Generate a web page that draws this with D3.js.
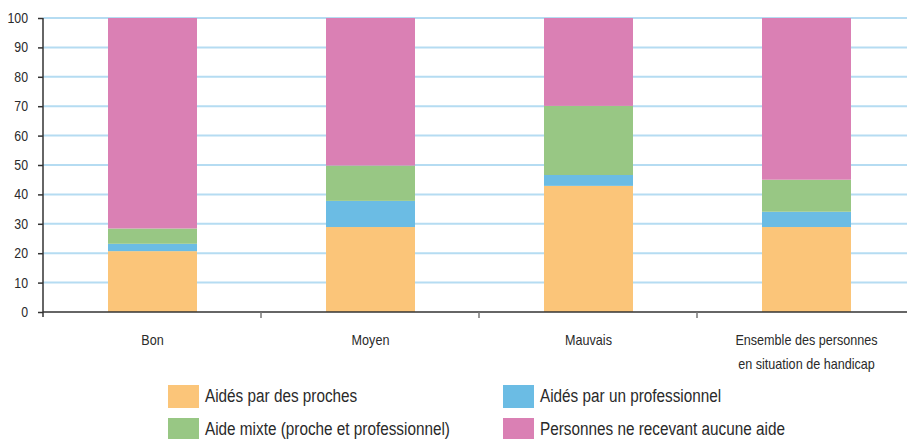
<!DOCTYPE html>
<html>
<head>
<meta charset="utf-8">
<script src="https://cdn.jsdelivr.net/npm/d3@7"></script>
<style>
  body { margin: 0; background: #fff; }
  text { font-family: "Liberation Sans Narrow", "Liberation Sans", Arial, sans-serif; fill: #2a2a2a; }
</style>
</head>
<body>
<script>
// data (percent)
var categories = ["Bon", "Moyen", "Mauvais", "Ensemble des personnes|en situation de handicap"];
var seriesNames = ["Aidés par des proches", "Aidés par un professionnel", "Aide mixte (proche et professionnel)", "Personnes ne recevant aucune aide"];
var proches = [20.7, 28.9, 42.9, 28.9];
var professionnel = [2.5, 8.9, 3.7, 5.2];
var mixte = [5.2, 12.0, 23.5, 10.9];
var aucune = [71.6, 50.2, 29.9, 55.0];
var yTicks = [0, 10, 20, 30, 40, 50, 60, 70, 80, 90, 100];
var colors = ["#fbc579", "#6bbce4", "#98c784", "#da80b4"];

var svgWidth = 907, svgHeight = 439;
var margin = { top: 18, right: 0, bottom: 127, left: 43 };
var width = 872, height = svgHeight - margin.top - margin.bottom;
var narrow = 0.84; // the original type is a condensed sans

var svg = d3.select("body").append("svg")
  .attr("width", svgWidth)
  .attr("height", svgHeight);

// squeeze a text element horizontally to mimic a narrow face
function condense(sel, k) {
  sel.each(function () {
    var len = this.getComputedTextLength();
    d3.select(this)
      .attr("textLength", len * (k || narrow))
      .attr("lengthAdjust", "spacingAndGlyphs");
  });
}

var chartGroup = svg.append("g")
  .attr("transform", `translate(${margin.left}, ${margin.top})`);

var table = categories.map(function (c, i) {
  return { cat: c, s0: proches[i], s1: professionnel[i], s2: mixte[i], s3: aucune[i] };
});
var stack = d3.stack().keys(["s0", "s1", "s2", "s3"])(table);

var x = d3.scaleBand().domain(categories).range([0, width]);
var y = d3.scaleLinear().domain([0, 100]).range([height, 0]);

// gridlines
chartGroup.append("g")
  .selectAll("line")
  .data(yTicks.filter(d => d > 0))
  .enter().append("line")
  .attr("x1", 0).attr("x2", svgWidth - margin.left)
  .attr("y1", d => y(d)).attr("y2", d => y(d))
  .attr("stroke", "#b5dcf2")
  .attr("stroke-width", 2);

// bars
var barW = 89;
chartGroup.append("g")
  .selectAll("g")
  .data(stack)
  .enter().append("g")
  .attr("fill", (d, i) => colors[i])
  .selectAll("rect")
  .data(d => d)
  .enter().append("rect")
  .attr("x", d => x(d.data.cat) + x.bandwidth() / 2 - barW / 2 + 0.5)
  .attr("width", barW)
  .attr("y", d => y(d[1]))
  .attr("height", d => y(d[0]) - y(d[1]));

// y axis
var yAxis = chartGroup.append("g")
  .call(d3.axisLeft(y).tickValues(yTicks).tickSize(5).tickPadding(10));
yAxis.select(".domain").attr("stroke", "#333").attr("stroke-width", 1.5).attr("d", `M0,${height + 5}V0`);
yAxis.selectAll(".tick line").attr("stroke", "#333").attr("stroke-width", 1.5);
yAxis.selectAll("text").style("font-size", "14px").attr("fill", "#2a2a2a").call(condense, 0.88);

// x axis
var xAxis = chartGroup.append("g")
  .attr("transform", `translate(0, ${height})`);
xAxis.append("line")
  .attr("x1", 0).attr("x2", svgWidth - margin.left)
  .attr("stroke", "#333").attr("stroke-width", 1.5);
xAxis.selectAll(".sep")
  .data(categories.slice(1))
  .enter().append("line")
  .attr("class", "sep")
  .attr("x1", d => x(d)).attr("x2", d => x(d))
  .attr("y1", 0).attr("y2", 6)
  .attr("stroke", "#777").attr("stroke-width", 1.5);

categories.forEach(function (c) {
  c.split("|").forEach(function (line, i) {
    xAxis.append("text")
      .attr("text-anchor", "middle")
      .attr("x", x(c) + x.bandwidth() / 2 + 0.5)
      .attr("y", 33 + i * 24)
      .style("font-size", "15px")
      .text(line)
      .call(condense);
  });
});

// legend
var legend = svg.append("g");
var legendPos = [[168, 385], [503, 385], [168, 418], [503, 418]];
seriesNames.forEach(function (name, i) {
  var g = legend.append("g")
    .attr("transform", `translate(${legendPos[i][0]}, ${legendPos[i][1]})`);
  g.append("rect")
    .attr("width", 31).attr("height", 23)
    .attr("fill", colors[i]);
  g.append("text")
    .attr("x", 37).attr("y", 17)
    .style("font-size", "18px")
    .text(name)
    .call(condense, 0.85);
});
</script>
</body>
</html>
